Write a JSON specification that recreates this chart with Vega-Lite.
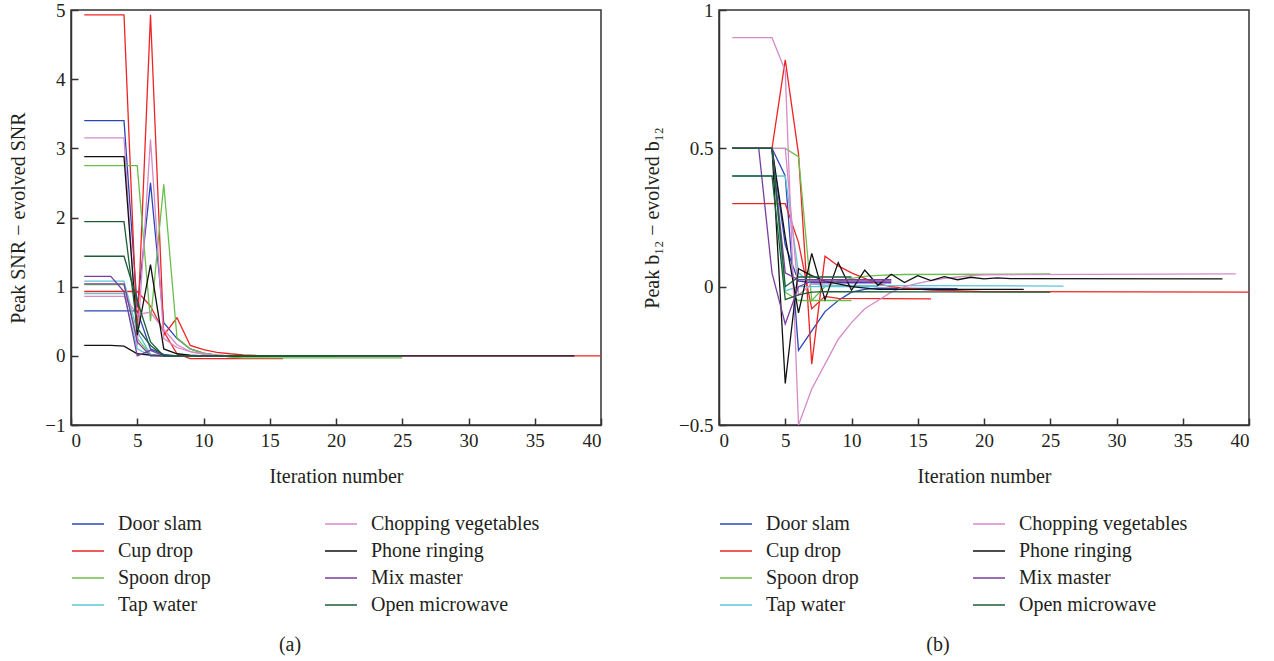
{
"$schema":"https://vega.github.io/schema/vega-lite/v6.json",
"padding":{"left":8,"top":0,"right":0,"bottom":0},
"spacing":38,
"config":{
 "font":"Liberation Serif",
 "view":{"stroke":"#333","strokeWidth":1.5},
 "axis":{"domainColor":"#333","domainWidth":1.5,"tickColor":"#333","tickWidth":1.5,"tickSize":-7,"labelPadding":13,"labelFontSize":19,"labelColor":"#231f20","titleFontSize":20,"titleFontWeight":"normal","titleColor":"#231f20","grid":false,"labelFont":"Liberation Serif","titleFont":"Liberation Serif"},
 "legend":{"orient":"none","legendX":6,"legendY":503,"columns":2,"title":null,"symbolType":"M-1.6,0H1.6","symbolSize":400,"symbolStrokeWidth":1.5,"labelFontSize":20,"labelFont":"Liberation Serif","labelColor":"#231f20","labelOffset":19,"labelLimit":400,"rowPadding":6,"columnPadding":111,"padding":0},
 "title":{"fontSize":20,"fontWeight":"normal","font":"Liberation Serif","color":"#231f20"}
},
"datasets":{
"a":[
{"s":"Door slam","r":1,"x":1,"y":3.4},{"s":"Door slam","r":1,"x":2,"y":3.4},{"s":"Door slam","r":1,"x":3,"y":3.4},{"s":"Door slam","r":1,"x":4,"y":3.4},{"s":"Door slam","r":1,"x":5,"y":0.7},{"s":"Door slam","r":1,"x":6,"y":2.5},{"s":"Door slam","r":1,"x":7,"y":0.48},{"s":"Door slam","r":1,"x":8,"y":0.25},{"s":"Door slam","r":1,"x":9,"y":0.1},{"s":"Door slam","r":1,"x":10,"y":0.04},{"s":"Door slam","r":1,"x":11,"y":0.01},{"s":"Door slam","r":1,"x":12,"y":0},{"s":"Door slam","r":1,"x":18,"y":0},
{"s":"Door slam","r":2,"x":1,"y":0.65},{"s":"Door slam","r":2,"x":2,"y":0.65},{"s":"Door slam","r":2,"x":3,"y":0.65},{"s":"Door slam","r":2,"x":4,"y":0.65},{"s":"Door slam","r":2,"x":5,"y":0.65},{"s":"Door slam","r":2,"x":6,"y":0.1},{"s":"Door slam","r":2,"x":7,"y":0.02},{"s":"Door slam","r":2,"x":8,"y":0},{"s":"Door slam","r":2,"x":14,"y":0},
{"s":"Cup drop","r":1,"x":1,"y":4.93},{"s":"Cup drop","r":1,"x":2,"y":4.93},{"s":"Cup drop","r":1,"x":3,"y":4.93},{"s":"Cup drop","r":1,"x":4,"y":4.93},{"s":"Cup drop","r":1,"x":5,"y":0.3},{"s":"Cup drop","r":1,"x":6,"y":4.93},{"s":"Cup drop","r":1,"x":7,"y":0.3},{"s":"Cup drop","r":1,"x":8,"y":0.55},{"s":"Cup drop","r":1,"x":9,"y":0.15},{"s":"Cup drop","r":1,"x":10,"y":0.09},{"s":"Cup drop","r":1,"x":11,"y":0.05},{"s":"Cup drop","r":1,"x":12,"y":0.03},{"s":"Cup drop","r":1,"x":13,"y":0.015},{"s":"Cup drop","r":1,"x":14,"y":0.005},{"s":"Cup drop","r":1,"x":15,"y":0},{"s":"Cup drop","r":1,"x":40,"y":0},
{"s":"Cup drop","r":2,"x":1,"y":0.93},{"s":"Cup drop","r":2,"x":2,"y":0.93},{"s":"Cup drop","r":2,"x":3,"y":0.93},{"s":"Cup drop","r":2,"x":4,"y":0.93},{"s":"Cup drop","r":2,"x":5,"y":0.93},{"s":"Cup drop","r":2,"x":6,"y":0.72},{"s":"Cup drop","r":2,"x":7,"y":0.35},{"s":"Cup drop","r":2,"x":8,"y":0.03},{"s":"Cup drop","r":2,"x":9,"y":-0.04},{"s":"Cup drop","r":2,"x":16,"y":-0.04},
{"s":"Spoon drop","r":1,"x":1,"y":2.75},{"s":"Spoon drop","r":1,"x":2,"y":2.75},{"s":"Spoon drop","r":1,"x":3,"y":2.75},{"s":"Spoon drop","r":1,"x":4,"y":2.75},{"s":"Spoon drop","r":1,"x":5,"y":2.75},{"s":"Spoon drop","r":1,"x":6,"y":0.5},{"s":"Spoon drop","r":1,"x":7,"y":2.48},{"s":"Spoon drop","r":1,"x":8,"y":0.26},{"s":"Spoon drop","r":1,"x":9,"y":0.1},{"s":"Spoon drop","r":1,"x":10,"y":0.04},{"s":"Spoon drop","r":1,"x":11,"y":0.01},{"s":"Spoon drop","r":1,"x":12,"y":-0.02},{"s":"Spoon drop","r":1,"x":13,"y":-0.03},{"s":"Spoon drop","r":1,"x":25,"y":-0.03},
{"s":"Spoon drop","r":2,"x":1,"y":1.03},{"s":"Spoon drop","r":2,"x":2,"y":1.03},{"s":"Spoon drop","r":2,"x":3,"y":1.03},{"s":"Spoon drop","r":2,"x":4,"y":1.03},{"s":"Spoon drop","r":2,"x":5,"y":0.25},{"s":"Spoon drop","r":2,"x":6,"y":0.02},{"s":"Spoon drop","r":2,"x":7,"y":0},{"s":"Spoon drop","r":2,"x":15,"y":0},
{"s":"Tap water","r":1,"x":1,"y":1.08},{"s":"Tap water","r":1,"x":2,"y":1.08},{"s":"Tap water","r":1,"x":3,"y":1.08},{"s":"Tap water","r":1,"x":4,"y":1.08},{"s":"Tap water","r":1,"x":5,"y":0.35},{"s":"Tap water","r":1,"x":6,"y":0.02},{"s":"Tap water","r":1,"x":7,"y":0},{"s":"Tap water","r":1,"x":20,"y":0},
{"s":"Tap water","r":2,"x":1,"y":0.9},{"s":"Tap water","r":2,"x":2,"y":0.9},{"s":"Tap water","r":2,"x":3,"y":0.9},{"s":"Tap water","r":2,"x":4,"y":0.9},{"s":"Tap water","r":2,"x":5,"y":0.1},{"s":"Tap water","r":2,"x":6,"y":0},{"s":"Tap water","r":2,"x":12,"y":0},
{"s":"Chopping vegetables","r":1,"x":1,"y":3.15},{"s":"Chopping vegetables","r":1,"x":2,"y":3.15},{"s":"Chopping vegetables","r":1,"x":3,"y":3.15},{"s":"Chopping vegetables","r":1,"x":4,"y":3.15},{"s":"Chopping vegetables","r":1,"x":5,"y":0.15},{"s":"Chopping vegetables","r":1,"x":6,"y":3.13},{"s":"Chopping vegetables","r":1,"x":7,"y":0.25},{"s":"Chopping vegetables","r":1,"x":8,"y":0.12},{"s":"Chopping vegetables","r":1,"x":9,"y":0.06},{"s":"Chopping vegetables","r":1,"x":10,"y":0.03},{"s":"Chopping vegetables","r":1,"x":11,"y":0.01},{"s":"Chopping vegetables","r":1,"x":12,"y":0},{"s":"Chopping vegetables","r":1,"x":38,"y":0},
{"s":"Chopping vegetables","r":2,"x":1,"y":0.86},{"s":"Chopping vegetables","r":2,"x":2,"y":0.86},{"s":"Chopping vegetables","r":2,"x":3,"y":0.86},{"s":"Chopping vegetables","r":2,"x":4,"y":0.86},{"s":"Chopping vegetables","r":2,"x":5,"y":0.6},{"s":"Chopping vegetables","r":2,"x":6,"y":0.63},{"s":"Chopping vegetables","r":2,"x":7,"y":0.38},{"s":"Chopping vegetables","r":2,"x":8,"y":0.16},{"s":"Chopping vegetables","r":2,"x":9,"y":0.06},{"s":"Chopping vegetables","r":2,"x":10,"y":0.02},{"s":"Chopping vegetables","r":2,"x":11,"y":0},{"s":"Chopping vegetables","r":2,"x":15,"y":0},
{"s":"Phone ringing","r":1,"x":1,"y":2.88},{"s":"Phone ringing","r":1,"x":2,"y":2.88},{"s":"Phone ringing","r":1,"x":3,"y":2.88},{"s":"Phone ringing","r":1,"x":4,"y":2.88},{"s":"Phone ringing","r":1,"x":5,"y":0.3},{"s":"Phone ringing","r":1,"x":6,"y":1.32},{"s":"Phone ringing","r":1,"x":7,"y":0.1},{"s":"Phone ringing","r":1,"x":8,"y":0.03},{"s":"Phone ringing","r":1,"x":9,"y":0.01},{"s":"Phone ringing","r":1,"x":10,"y":0},{"s":"Phone ringing","r":1,"x":38,"y":0},
{"s":"Phone ringing","r":2,"x":1,"y":0.15},{"s":"Phone ringing","r":2,"x":2,"y":0.15},{"s":"Phone ringing","r":2,"x":3,"y":0.15},{"s":"Phone ringing","r":2,"x":4,"y":0.14},{"s":"Phone ringing","r":2,"x":5,"y":0.03},{"s":"Phone ringing","r":2,"x":6,"y":0.01},{"s":"Phone ringing","r":2,"x":7,"y":0},{"s":"Phone ringing","r":2,"x":15,"y":0},
{"s":"Mix master","r":1,"x":1,"y":1.15},{"s":"Mix master","r":1,"x":2,"y":1.15},{"s":"Mix master","r":1,"x":3,"y":1.15},{"s":"Mix master","r":1,"x":4,"y":0.93},{"s":"Mix master","r":1,"x":5,"y":0},{"s":"Mix master","r":1,"x":6,"y":0.08},{"s":"Mix master","r":1,"x":7,"y":0},{"s":"Mix master","r":1,"x":12,"y":0},
{"s":"Mix master","r":2,"x":1,"y":1.04},{"s":"Mix master","r":2,"x":2,"y":1.04},{"s":"Mix master","r":2,"x":3,"y":1.04},{"s":"Mix master","r":2,"x":4,"y":1.04},{"s":"Mix master","r":2,"x":5,"y":0.2},{"s":"Mix master","r":2,"x":6,"y":0},{"s":"Mix master","r":2,"x":12,"y":0},
{"s":"Open microwave","r":1,"x":1,"y":1.94},{"s":"Open microwave","r":1,"x":2,"y":1.94},{"s":"Open microwave","r":1,"x":3,"y":1.94},{"s":"Open microwave","r":1,"x":4,"y":1.94},{"s":"Open microwave","r":1,"x":5,"y":0.4},{"s":"Open microwave","r":1,"x":6,"y":0.15},{"s":"Open microwave","r":1,"x":7,"y":0},{"s":"Open microwave","r":1,"x":20,"y":0},
{"s":"Open microwave","r":2,"x":1,"y":1.44},{"s":"Open microwave","r":2,"x":2,"y":1.44},{"s":"Open microwave","r":2,"x":3,"y":1.44},{"s":"Open microwave","r":2,"x":4,"y":1.44},{"s":"Open microwave","r":2,"x":5,"y":0.8},{"s":"Open microwave","r":2,"x":6,"y":0.2},{"s":"Open microwave","r":2,"x":7,"y":0},{"s":"Open microwave","r":2,"x":25,"y":0}
],
"b":[
{"s":"Door slam","r":1,"x":1,"y":0.5},{"s":"Door slam","r":1,"x":2,"y":0.5},{"s":"Door slam","r":1,"x":3,"y":0.5},{"s":"Door slam","r":1,"x":4,"y":0.5},{"s":"Door slam","r":1,"x":5,"y":0.4},{"s":"Door slam","r":1,"x":6,"y":-0.23},{"s":"Door slam","r":1,"x":7,"y":-0.16},{"s":"Door slam","r":1,"x":8,"y":-0.09},{"s":"Door slam","r":1,"x":9,"y":-0.05},{"s":"Door slam","r":1,"x":10,"y":-0.02},{"s":"Door slam","r":1,"x":11,"y":-0.01},{"s":"Door slam","r":1,"x":12,"y":-0.005},{"s":"Door slam","r":1,"x":18,"y":-0.007},
{"s":"Door slam","r":2,"x":1,"y":0.5},{"s":"Door slam","r":2,"x":2,"y":0.5},{"s":"Door slam","r":2,"x":3,"y":0.5},{"s":"Door slam","r":2,"x":4,"y":0.5},{"s":"Door slam","r":2,"x":5,"y":0.15},{"s":"Door slam","r":2,"x":6,"y":0.02},{"s":"Door slam","r":2,"x":7,"y":0.015},{"s":"Door slam","r":2,"x":13,"y":0.015},
{"s":"Cup drop","r":1,"x":1,"y":0.5},{"s":"Cup drop","r":1,"x":2,"y":0.5},{"s":"Cup drop","r":1,"x":3,"y":0.5},{"s":"Cup drop","r":1,"x":4,"y":0.5},{"s":"Cup drop","r":1,"x":5,"y":0.82},{"s":"Cup drop","r":1,"x":6,"y":0.48},{"s":"Cup drop","r":1,"x":7,"y":-0.28},{"s":"Cup drop","r":1,"x":8,"y":0.11},{"s":"Cup drop","r":1,"x":9,"y":0.075},{"s":"Cup drop","r":1,"x":10,"y":0.05},{"s":"Cup drop","r":1,"x":11,"y":0.03},{"s":"Cup drop","r":1,"x":12,"y":0.01},{"s":"Cup drop","r":1,"x":13,"y":0},{"s":"Cup drop","r":1,"x":14,"y":-0.005},{"s":"Cup drop","r":1,"x":16,"y":-0.012},{"s":"Cup drop","r":1,"x":20,"y":-0.018},{"s":"Cup drop","r":1,"x":40,"y":-0.02},
{"s":"Cup drop","r":2,"x":1,"y":0.3},{"s":"Cup drop","r":2,"x":2,"y":0.3},{"s":"Cup drop","r":2,"x":3,"y":0.3},{"s":"Cup drop","r":2,"x":4,"y":0.3},{"s":"Cup drop","r":2,"x":5,"y":0.3},{"s":"Cup drop","r":2,"x":6,"y":0.16},{"s":"Cup drop","r":2,"x":7,"y":-0.08},{"s":"Cup drop","r":2,"x":8,"y":-0.035},{"s":"Cup drop","r":2,"x":9,"y":-0.042},{"s":"Cup drop","r":2,"x":16,"y":-0.044},
{"s":"Spoon drop","r":1,"x":1,"y":0.5},{"s":"Spoon drop","r":1,"x":2,"y":0.5},{"s":"Spoon drop","r":1,"x":3,"y":0.5},{"s":"Spoon drop","r":1,"x":4,"y":0.5},{"s":"Spoon drop","r":1,"x":5,"y":0.5},{"s":"Spoon drop","r":1,"x":6,"y":0.47},{"s":"Spoon drop","r":1,"x":7,"y":-0.05},{"s":"Spoon drop","r":1,"x":8,"y":0.0},{"s":"Spoon drop","r":1,"x":9,"y":0.02},{"s":"Spoon drop","r":1,"x":10,"y":0.03},{"s":"Spoon drop","r":1,"x":11,"y":0.037},{"s":"Spoon drop","r":1,"x":12,"y":0.041},{"s":"Spoon drop","r":1,"x":14,"y":0.044},{"s":"Spoon drop","r":1,"x":25,"y":0.046},
{"s":"Spoon drop","r":2,"x":1,"y":0.5},{"s":"Spoon drop","r":2,"x":2,"y":0.5},{"s":"Spoon drop","r":2,"x":3,"y":0.5},{"s":"Spoon drop","r":2,"x":4,"y":0.5},{"s":"Spoon drop","r":2,"x":5,"y":-0.02},{"s":"Spoon drop","r":2,"x":6,"y":-0.05},{"s":"Spoon drop","r":2,"x":10,"y":-0.05},
{"s":"Tap water","r":1,"x":1,"y":0.4},{"s":"Tap water","r":1,"x":2,"y":0.4},{"s":"Tap water","r":1,"x":3,"y":0.4},{"s":"Tap water","r":1,"x":4,"y":0.4},{"s":"Tap water","r":1,"x":5,"y":0.4},{"s":"Tap water","r":1,"x":6,"y":0.05},{"s":"Tap water","r":1,"x":7,"y":0.01},{"s":"Tap water","r":1,"x":8,"y":0.005},{"s":"Tap water","r":1,"x":26,"y":0.002},
{"s":"Tap water","r":2,"x":1,"y":0.5},{"s":"Tap water","r":2,"x":2,"y":0.5},{"s":"Tap water","r":2,"x":3,"y":0.5},{"s":"Tap water","r":2,"x":4,"y":0.5},{"s":"Tap water","r":2,"x":5,"y":-0.015},{"s":"Tap water","r":2,"x":6,"y":0},{"s":"Tap water","r":2,"x":12,"y":0},
{"s":"Chopping vegetables","r":1,"x":1,"y":0.9},{"s":"Chopping vegetables","r":1,"x":2,"y":0.9},{"s":"Chopping vegetables","r":1,"x":3,"y":0.9},{"s":"Chopping vegetables","r":1,"x":4,"y":0.9},{"s":"Chopping vegetables","r":1,"x":5,"y":0.78},{"s":"Chopping vegetables","r":1,"x":6,"y":-0.5},{"s":"Chopping vegetables","r":1,"x":7,"y":-0.37},{"s":"Chopping vegetables","r":1,"x":8,"y":-0.28},{"s":"Chopping vegetables","r":1,"x":9,"y":-0.19},{"s":"Chopping vegetables","r":1,"x":10,"y":-0.13},{"s":"Chopping vegetables","r":1,"x":11,"y":-0.08},{"s":"Chopping vegetables","r":1,"x":12,"y":-0.05},{"s":"Chopping vegetables","r":1,"x":13,"y":-0.02},{"s":"Chopping vegetables","r":1,"x":14,"y":0},{"s":"Chopping vegetables","r":1,"x":15,"y":0.012},{"s":"Chopping vegetables","r":1,"x":16,"y":0.022},{"s":"Chopping vegetables","r":1,"x":17,"y":0.03},{"s":"Chopping vegetables","r":1,"x":18,"y":0.035},{"s":"Chopping vegetables","r":1,"x":19,"y":0.04},{"s":"Chopping vegetables","r":1,"x":20,"y":0.043},{"s":"Chopping vegetables","r":1,"x":39,"y":0.046},
{"s":"Chopping vegetables","r":2,"x":1,"y":0.5},{"s":"Chopping vegetables","r":2,"x":2,"y":0.5},{"s":"Chopping vegetables","r":2,"x":3,"y":0.5},{"s":"Chopping vegetables","r":2,"x":4,"y":0.5},{"s":"Chopping vegetables","r":2,"x":5,"y":0.5},{"s":"Chopping vegetables","r":2,"x":6,"y":-0.03},{"s":"Chopping vegetables","r":2,"x":7,"y":0.01},{"s":"Chopping vegetables","r":2,"x":13,"y":0.012},
{"s":"Phone ringing","r":1,"x":1,"y":0.5},{"s":"Phone ringing","r":1,"x":2,"y":0.5},{"s":"Phone ringing","r":1,"x":3,"y":0.5},{"s":"Phone ringing","r":1,"x":4,"y":0.5},{"s":"Phone ringing","r":1,"x":5,"y":-0.35},{"s":"Phone ringing","r":1,"x":6,"y":0.065},{"s":"Phone ringing","r":1,"x":7,"y":0.04},{"s":"Phone ringing","r":1,"x":8,"y":0.02},{"s":"Phone ringing","r":1,"x":9,"y":0.01},{"s":"Phone ringing","r":1,"x":10,"y":0},{"s":"Phone ringing","r":1,"x":12,"y":-0.01},{"s":"Phone ringing","r":1,"x":23,"y":-0.01},
{"s":"Phone ringing","r":2,"x":1,"y":0.5},{"s":"Phone ringing","r":2,"x":2,"y":0.5},{"s":"Phone ringing","r":2,"x":3,"y":0.5},{"s":"Phone ringing","r":2,"x":4,"y":0.5},{"s":"Phone ringing","r":2,"x":5,"y":0.18},{"s":"Phone ringing","r":2,"x":6,"y":-0.095},{"s":"Phone ringing","r":2,"x":7,"y":0.12},{"s":"Phone ringing","r":2,"x":8,"y":-0.047},{"s":"Phone ringing","r":2,"x":9,"y":0.087},{"s":"Phone ringing","r":2,"x":10,"y":-0.013},{"s":"Phone ringing","r":2,"x":11,"y":0.06},{"s":"Phone ringing","r":2,"x":12,"y":0.005},{"s":"Phone ringing","r":2,"x":13,"y":0.045},{"s":"Phone ringing","r":2,"x":14,"y":0.015},{"s":"Phone ringing","r":2,"x":15,"y":0.04},{"s":"Phone ringing","r":2,"x":16,"y":0.022},{"s":"Phone ringing","r":2,"x":17,"y":0.036},{"s":"Phone ringing","r":2,"x":18,"y":0.025},{"s":"Phone ringing","r":2,"x":19,"y":0.034},{"s":"Phone ringing","r":2,"x":20,"y":0.028},{"s":"Phone ringing","r":2,"x":21,"y":0.032},{"s":"Phone ringing","r":2,"x":22,"y":0.029},{"s":"Phone ringing","r":2,"x":38,"y":0.028},
{"s":"Mix master","r":1,"x":1,"y":0.5},{"s":"Mix master","r":1,"x":2,"y":0.5},{"s":"Mix master","r":1,"x":3,"y":0.5},{"s":"Mix master","r":1,"x":4,"y":0.05},{"s":"Mix master","r":1,"x":5,"y":-0.135},{"s":"Mix master","r":1,"x":6,"y":0},{"s":"Mix master","r":1,"x":7,"y":0.02},{"s":"Mix master","r":1,"x":13,"y":0.02},
{"s":"Mix master","r":2,"x":1,"y":0.5},{"s":"Mix master","r":2,"x":2,"y":0.5},{"s":"Mix master","r":2,"x":3,"y":0.5},{"s":"Mix master","r":2,"x":4,"y":0.5},{"s":"Mix master","r":2,"x":5,"y":0.05},{"s":"Mix master","r":2,"x":6,"y":0.025},{"s":"Mix master","r":2,"x":13,"y":0.025},
{"s":"Open microwave","r":1,"x":1,"y":0.4},{"s":"Open microwave","r":1,"x":2,"y":0.4},{"s":"Open microwave","r":1,"x":3,"y":0.4},{"s":"Open microwave","r":1,"x":4,"y":0.4},{"s":"Open microwave","r":1,"x":5,"y":-0.047},{"s":"Open microwave","r":1,"x":6,"y":-0.03},{"s":"Open microwave","r":1,"x":7,"y":-0.02},{"s":"Open microwave","r":1,"x":8,"y":-0.018},{"s":"Open microwave","r":1,"x":25,"y":-0.02},
{"s":"Open microwave","r":2,"x":1,"y":0.5},{"s":"Open microwave","r":2,"x":2,"y":0.5},{"s":"Open microwave","r":2,"x":3,"y":0.5},{"s":"Open microwave","r":2,"x":4,"y":0.5},{"s":"Open microwave","r":2,"x":5,"y":0},{"s":"Open microwave","r":2,"x":6,"y":0.035},{"s":"Open microwave","r":2,"x":10,"y":0.035}
]
},
"hconcat":[
{
 "width":530,"height":415,
 "data":{"name":"a"},
 "title":{"text":"(a)","orient":"bottom","anchor":"middle","dx":-46,"offset":20},
 "mark":{"type":"line","strokeWidth":1.3,"clip":true},
 "encoding":{
  "x":{"field":"x","type":"quantitative","scale":{"domain":[0,40]},"axis":{"values":[0,5,10,15,20,25,30,35,40],"title":"Iteration number","titlePadding":16}},
  "y":{"field":"y","type":"quantitative","scale":{"domain":[-1,5]},"axis":{"values":[-1,0,1,2,3,4,5],"format":"~g","title":"Peak SNR − evolved SNR","titlePadding":16}},
  "color":{"field":"s","type":"nominal","scale":{"domain":["Door slam","Cup drop","Spoon drop","Tap water","Chopping vegetables","Phone ringing","Mix master","Open microwave"],"range":["#2b46b8","#ee2424","#6abf4b","#5cc6d8","#d68ac8","#111111","#7a3e9d","#1b5e35"]},"legend":{}},
  "detail":{"field":"r","type":"nominal"}
 }
},
{
 "width":530,"height":415,
 "data":{"name":"b"},
 "title":{"text":"(b)","orient":"bottom","anchor":"middle","dx":-46,"offset":20},
 "mark":{"type":"line","strokeWidth":1.3,"clip":true},
 "encoding":{
  "x":{"field":"x","type":"quantitative","scale":{"domain":[0,40]},"axis":{"values":[0,5,10,15,20,25,30,35,40],"title":"Iteration number","titlePadding":16}},
  "y":{"field":"y","type":"quantitative","scale":{"domain":[-0.5,1]},"axis":{"values":[-0.5,0,0.5,1],"format":"~g","title":"Peak b₁₂ − evolved b₁₂","titlePadding":16}},
  "color":{"field":"s","type":"nominal","scale":{"domain":["Door slam","Cup drop","Spoon drop","Tap water","Chopping vegetables","Phone ringing","Mix master","Open microwave"],"range":["#2b46b8","#ee2424","#6abf4b","#5cc6d8","#d68ac8","#111111","#7a3e9d","#1b5e35"]},"legend":{}},
  "detail":{"field":"r","type":"nominal"}
 }
}
],
"resolve":{"scale":{"color":"independent"},"legend":{"color":"independent"}}
}
